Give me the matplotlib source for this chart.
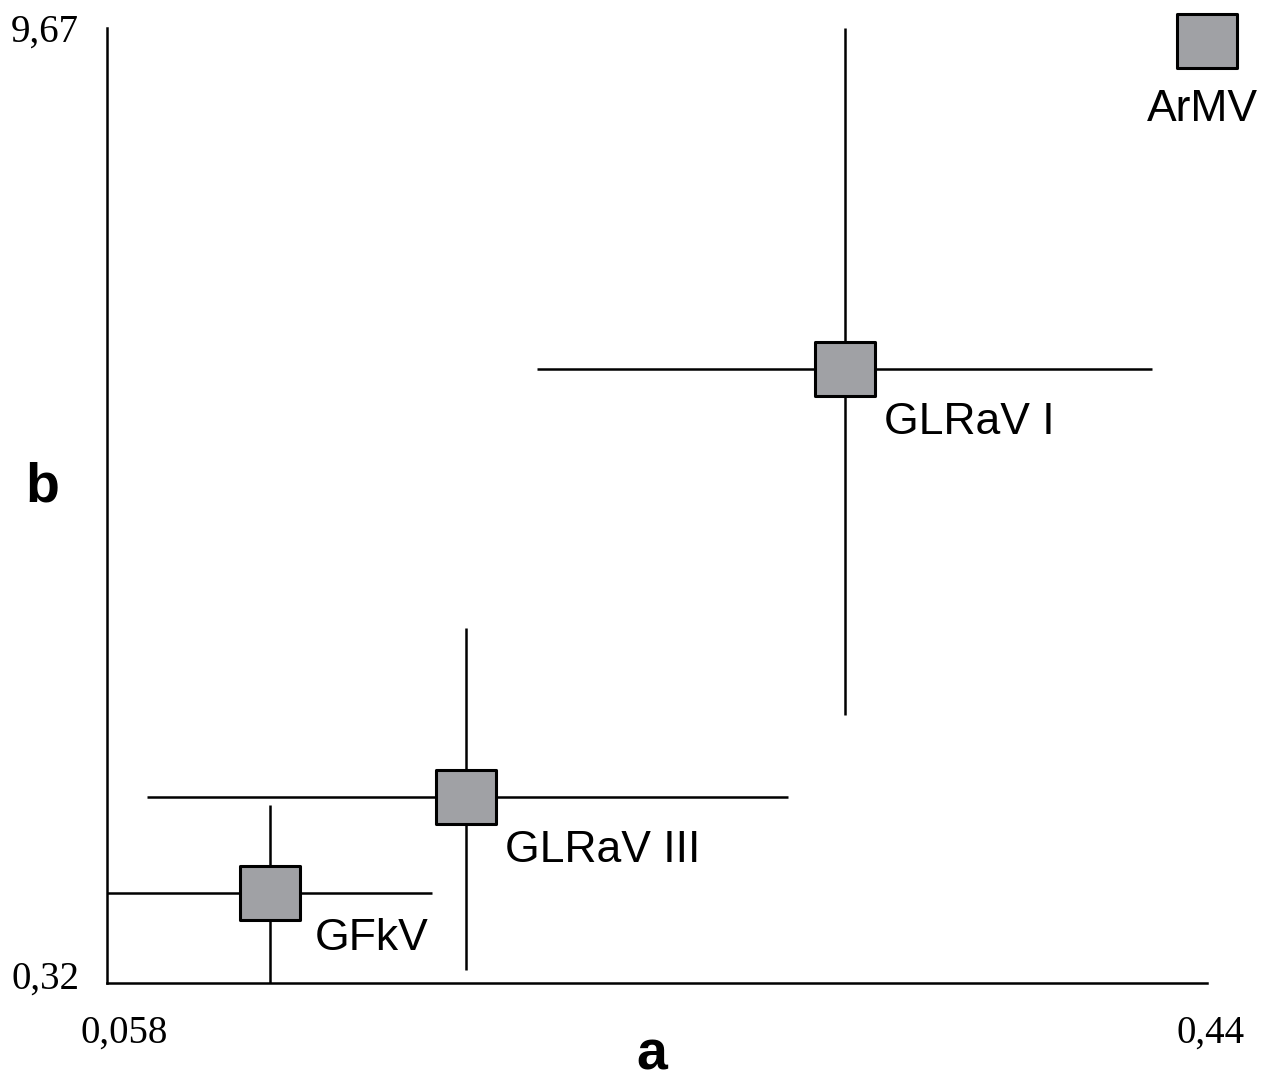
import numpy as np
import matplotlib.pyplot as plt
from matplotlib.path import Path
from matplotlib.transforms import ScaledTranslation

names = ['GFkV', 'GLRaV III', 'GLRaV I', 'ArMV']
a = [0.1146, 0.1827, 0.3143, 0.44]
b = [1.20, 2.14, 6.33, 9.54]
# error bar ends (only the first three have them)
a_lo = [0.058, 0.0719, 0.2073]
a_hi = [0.1709, 0.2945, 0.4209]
b_lo = [0.32, 0.45, 2.94]
b_hi = [2.06, 3.80, 9.67]

xticks = [0.058, 0.44]
xtick_labels = ['0,058', '0,44']
yticks = [0.32, 9.67]
ytick_labels = ['0,32', '9,67']

# label offsets from marker centre, in points (dx, dy) and alignment
label_off = [(32, -18, 'left'), (28, -24, 'left'), (28, -24, 'left'), (-3, -34, 'center')]

# slightly wide rectangle marker
w, h = 0.5, 54 / 61.0 / 2
rect = Path([(-w, -h), (w, -h), (w, h), (-w, h), (-w, -h)],
            [Path.MOVETO, Path.LINETO, Path.LINETO, Path.LINETO, Path.CLOSEPOLY])

fig = plt.figure(figsize=(12.68, 10.75), dpi=100)
ax = fig.add_axes([107 / 1268, 92 / 1075, 1100 / 1268, 955 / 1075])

n = len(a_lo)
xa = np.array(a[:n])
yb = np.array(b[:n])
xerr = [xa - np.array(a_lo), np.array(a_hi) - xa]
yerr = [yb - np.array(b_lo), np.array(b_hi) - yb]
ax.errorbar(xa, yb, xerr=xerr, yerr=yerr, fmt='none', ecolor='black',
            elinewidth=1.8, capsize=0, clip_on=False)
ax.plot(a, b, linestyle='none', marker=rect, markersize=43.9,
        markerfacecolor='#a0a1a5', markeredgecolor='black',
        markeredgewidth=2.2, clip_on=False, zorder=5)

for i, name in enumerate(names):
    dx, dy, ha = label_off[i]
    ax.annotate(name, (a[i], b[i]), xytext=(dx, dy), textcoords='offset points',
                ha=ha, va='top', fontsize=32, family='Liberation Sans')

ax.set_xlim(0.058, 0.44)
ax.set_ylim(0.32, 9.67)
for s in ['top', 'right']:
    ax.spines[s].set_visible(False)
for s in ['left', 'bottom']:
    ax.spines[s].set_linewidth(1.8)

ax.set_xticks(xticks)
ax.set_xticklabels(xtick_labels, family='Liberation Serif', fontsize=28)
ax.set_yticks(yticks)
ax.set_yticklabels(ytick_labels, family='Liberation Serif', fontsize=28)
ax.tick_params(length=0)
ax.tick_params(axis='x', pad=23)
ax.tick_params(axis='y', pad=20)

# small nudges so the tick labels sit as in the original
xshift = [17, 4]
for lab, dx in zip(ax.get_xticklabels(), xshift):
    lab.set_transform(lab.get_transform() + ScaledTranslation(dx / 100, 0, fig.dpi_scale_trans))
yshift = [8, 0]
for lab, dy in zip(ax.get_yticklabels(), yshift):
    lab.set_transform(lab.get_transform() + ScaledTranslation(0, dy / 100, fig.dpi_scale_trans))

ax.set_xlabel('a', fontsize=40, fontweight='bold', family='Liberation Sans', va='center')
ax.xaxis.set_label_coords((652 - 107) / 1100, (983 - 1055) / 955)
ax.set_ylabel('b', fontsize=40, fontweight='bold', family='Liberation Sans',
              rotation=0, va='center', ha='center')
ax.yaxis.set_label_coords((42 - 107) / 1100, (983 - 487) / 955)

fig.savefig('out.png', dpi=100)
